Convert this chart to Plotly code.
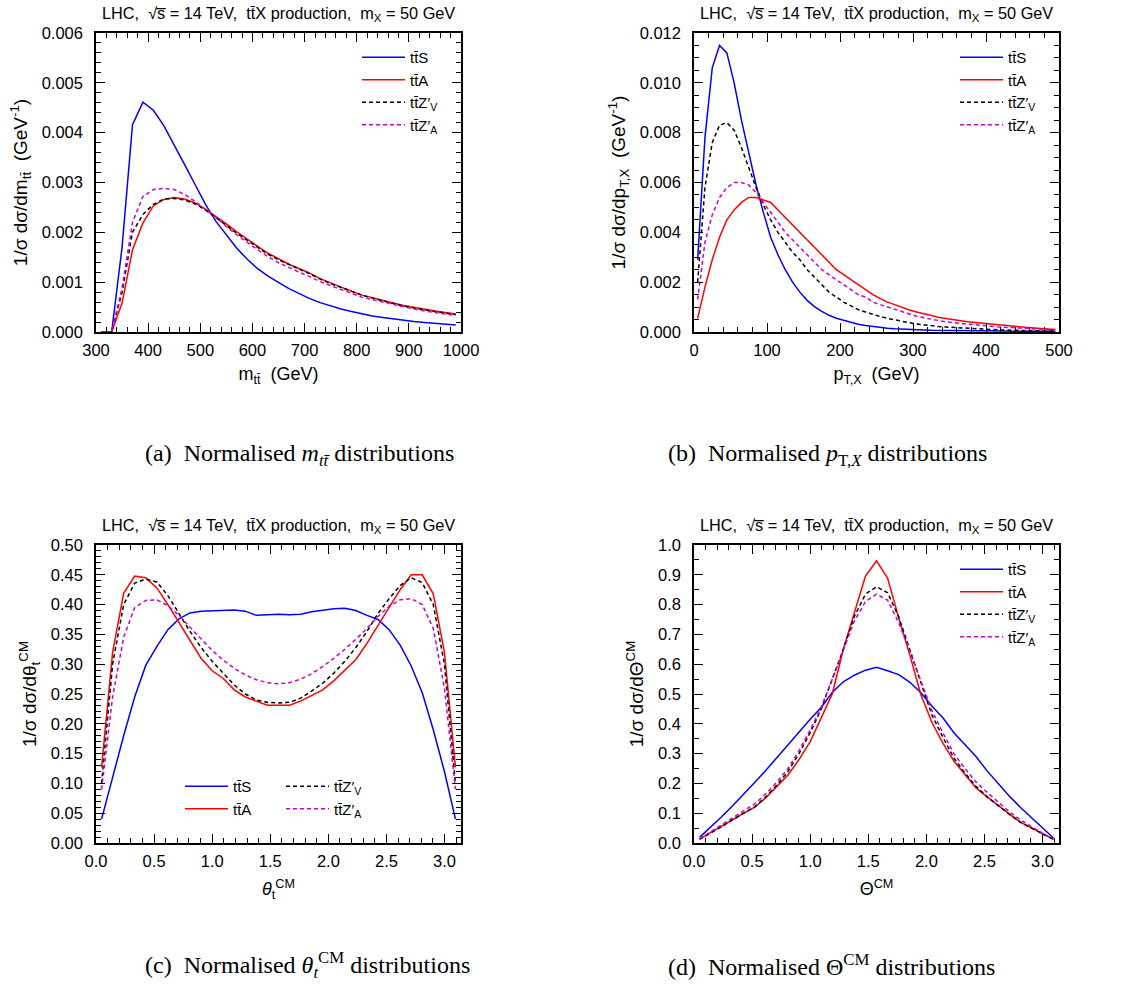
import plotly.graph_objects as go

# ---------------- data ----------------
mtt_bins = list(range(310, 1000, 20))
mtt_S = [0, 0, 0.0017, 0.00416, 0.00461, 0.00445, 0.00414, 0.00376, 0.00336, 0.00296,
         0.00256, 0.00222, 0.00195, 0.00168, 0.00146, 0.00127, 0.00112, 0.00099, 0.00087, 0.00077,
         0.00067, 0.00059, 0.00052, 0.00046, 0.00041, 0.00036, 0.00032, 0.00029, 0.00026, 0.00023,
         0.00021, 0.00019, 0.00017, 0.00016, 0.00014]
mtt_A = [0, 0, 0.00058, 0.00165, 0.00219, 0.00253, 0.00266, 0.0027, 0.00267, 0.00259,
         0.00246, 0.00232, 0.00217, 0.00201, 0.00186, 0.00172, 0.00158, 0.00147, 0.00136, 0.00127,
         0.00118, 0.00107, 0.00098, 0.0009, 0.00082, 0.00074, 0.00069, 0.00063, 0.00058, 0.00053,
         0.00049, 0.00045, 0.00042, 0.00039, 0.00036]
mtt_ZV = [0, 0, 0.0008, 0.002, 0.00236, 0.00256, 0.00267, 0.00268, 0.00265, 0.00257,
          0.00245, 0.00229, 0.00213, 0.00198, 0.00184, 0.0017, 0.00156, 0.00145, 0.00135, 0.00126,
          0.00117, 0.00106, 0.00097, 0.00089, 0.00081, 0.00074, 0.00068, 0.00062, 0.00057, 0.00052,
          0.00048, 0.00044, 0.00041, 0.00038, 0.00035]
mtt_ZA = [0, 0, 0.00088, 0.0022, 0.00272, 0.00286, 0.00288, 0.00286, 0.00276, 0.00262,
          0.00246, 0.0023, 0.00212, 0.00195, 0.0018, 0.00165, 0.00151, 0.00139, 0.00129, 0.0012,
          0.00111, 0.00101, 0.00093, 0.00085, 0.00078, 0.0007, 0.00065, 0.0006, 0.00055, 0.0005,
          0.00046, 0.00042, 0.00039, 0.00036, 0.00033]

pt_bins = list(range(5, 500, 10))
pt_S = [0.0029, 0.0078, 0.0106, 0.0115, 0.0112, 0.0100, 0.0085, 0.0072, 0.0059, 0.0048,
        0.0038, 0.0031, 0.0025, 0.002, 0.0016, 0.00127, 0.00102, 0.00083, 0.00067, 0.00055,
        0.00046, 0.00038, 0.00031, 0.00026, 0.00022, 0.00018, 0.00015, 0.00013, 0.00011, 0.0001,
        0.00009, 0.00008, 0.00007, 0.00007, 0.00006, 0.00006, 0.00005, 0.00005, 0.00005, 0.00004,
        0.00004, 0.00004, 0.00004, 0.00003, 0.00003, 0.00003, 0.00003, 0.00003, 0.00003, 0.00003]
pt_A = [0.00055, 0.0018, 0.0029, 0.0038, 0.0045, 0.0049, 0.0052, 0.0054, 0.0054, 0.0053,
        0.0052, 0.0049, 0.0046, 0.0043, 0.004, 0.0037, 0.0034, 0.0031, 0.0028, 0.0025,
        0.0023, 0.0021, 0.0019, 0.0017, 0.0015, 0.00135, 0.0012, 0.0011, 0.00098, 0.00088,
        0.0008, 0.00072, 0.00065, 0.00059, 0.00054, 0.00049, 0.00045, 0.00041, 0.00038, 0.00036,
        0.00033, 0.0003, 0.00027, 0.00024, 0.00021, 0.00019, 0.00016, 0.00014, 0.00012, 0.0001]
pt_ZV = [0.002, 0.0058, 0.0076, 0.0083, 0.0084, 0.0081, 0.0074, 0.0066, 0.0058, 0.0051,
         0.0045, 0.004, 0.0036, 0.0032, 0.0029, 0.0025, 0.0022, 0.0019, 0.0016, 0.0014,
         0.0012, 0.00105, 0.0009, 0.0008, 0.0007, 0.00062, 0.00055, 0.00048, 0.00042, 0.00037,
         0.00032, 0.00028, 0.00025, 0.00022, 0.0002, 0.00018, 0.00016, 0.00014, 0.00013, 0.00012,
         0.0001, 0.00009, 0.00008, 0.00007, 0.00006, 0.00006, 0.00005, 0.00005, 0.00004, 0.00004]
pt_ZA = [0.0013, 0.0036, 0.0047, 0.0054, 0.0058, 0.006, 0.006, 0.0059, 0.0056, 0.0052,
         0.0048, 0.0044, 0.004, 0.0037, 0.0034, 0.0031, 0.0028, 0.0025, 0.0023, 0.0021,
         0.0019, 0.0017, 0.0015, 0.0014, 0.0012, 0.0011, 0.001, 0.0009, 0.0008, 0.0007,
         0.00063, 0.00057, 0.00051, 0.00046, 0.00041, 0.00037, 0.00034, 0.00031, 0.00028, 0.00026,
         0.00024, 0.00021, 0.00019, 0.00017, 0.00015, 0.00013, 0.00012, 0.0001, 0.00009, 0.00008]

ang_bins = [0.048, 0.143, 0.238, 0.333, 0.428, 0.524, 0.619, 0.714, 0.809, 0.904, 1.000,
            1.095, 1.190, 1.285, 1.380, 1.476, 1.571, 1.666, 1.761, 1.856, 1.951, 2.047,
            2.142, 2.237, 2.332, 2.427, 2.523, 2.618, 2.713, 2.808, 2.903, 2.999, 3.094]
th_S = [0.04, 0.11, 0.18, 0.245, 0.298, 0.33, 0.358, 0.376, 0.386, 0.389, 0.39,
        0.391, 0.391, 0.389, 0.382, 0.383, 0.384, 0.383, 0.384, 0.388, 0.391, 0.393,
        0.394, 0.39, 0.382, 0.375, 0.358, 0.332, 0.297, 0.252, 0.19, 0.12, 0.04]
th_A = [0.127, 0.32, 0.419, 0.448, 0.445, 0.428, 0.4, 0.37, 0.338, 0.31, 0.289,
        0.276, 0.257, 0.245, 0.238, 0.231, 0.231, 0.231, 0.238, 0.247, 0.257, 0.272,
        0.29, 0.308, 0.335, 0.365, 0.397, 0.425, 0.45, 0.45, 0.418, 0.32, 0.127]
th_ZV = [0.1, 0.3, 0.4, 0.436, 0.443, 0.438, 0.415, 0.385, 0.355, 0.328, 0.305,
         0.285, 0.265, 0.25, 0.24, 0.236, 0.235, 0.236, 0.243, 0.255, 0.268, 0.285,
         0.305, 0.328, 0.355, 0.385, 0.41, 0.432, 0.445, 0.437, 0.4, 0.3, 0.1]
th_ZA = [0.09, 0.245, 0.345, 0.395, 0.407, 0.408, 0.398, 0.382, 0.362, 0.342, 0.323,
         0.307, 0.293, 0.282, 0.274, 0.269, 0.267, 0.269, 0.275, 0.284, 0.296, 0.31,
         0.325, 0.342, 0.36, 0.38, 0.397, 0.408, 0.41, 0.4, 0.36, 0.26, 0.09]

Th_S = [0.019, 0.053, 0.088, 0.125, 0.163, 0.204, 0.244, 0.287, 0.33, 0.373, 0.415,
        0.455, 0.505, 0.541, 0.563, 0.58, 0.59, 0.578, 0.565, 0.54, 0.505, 0.46,
        0.42, 0.37, 0.33, 0.29, 0.242, 0.2, 0.158, 0.12, 0.085, 0.05, 0.017]
Th_A = [0.013, 0.035, 0.057, 0.08, 0.1, 0.12, 0.152, 0.19, 0.228, 0.28, 0.34,
        0.42, 0.5, 0.65, 0.77, 0.896, 0.947, 0.889, 0.757, 0.633, 0.5, 0.405,
        0.335, 0.275, 0.23, 0.185, 0.155, 0.125, 0.098, 0.07, 0.05, 0.03, 0.012]
Th_ZV = [0.012, 0.033, 0.055, 0.078, 0.1, 0.122, 0.155, 0.195, 0.24, 0.3, 0.37,
         0.45, 0.55, 0.65, 0.76, 0.835, 0.86, 0.84, 0.76, 0.65, 0.54, 0.43,
         0.355, 0.285, 0.235, 0.19, 0.155, 0.125, 0.097, 0.07, 0.05, 0.03, 0.012]
Th_ZA = [0.014, 0.037, 0.06, 0.085, 0.108, 0.132, 0.165, 0.205, 0.25, 0.31, 0.38,
         0.455, 0.55, 0.645, 0.745, 0.81, 0.835, 0.815, 0.74, 0.645, 0.545, 0.445,
         0.37, 0.3, 0.25, 0.205, 0.17, 0.138, 0.105, 0.078, 0.055, 0.033, 0.012]

names = ["tt\u0304S", "tt\u0304A", "tt\u0304Z\u2032<sub>V</sub>", "tt\u0304Z\u2032<sub>A</sub>"]
colors = ["#0000ff", "#ff0000", "#000000", "#cc00cc"]
dashes = ["solid", "solid", "4px,3px", "4px,3px"]

# ---------------- figure ----------------
W, H = 1122, 988
FONT = "Liberation Sans, Arial, Helvetica, sans-serif"
SERIF = "Liberation Serif, Times New Roman, serif"

def px_x(p):
    return p / W

def px_y(p):
    return 1 - p / H

fig = go.Figure()

panels = [
    (mtt_bins, [mtt_S, mtt_A, mtt_ZV, mtt_ZA], "x", "y", "legend"),
    (pt_bins, [pt_S, pt_A, pt_ZV, pt_ZA], "x2", "y2", "legend2"),
    (ang_bins, [th_S, th_A, th_ZV, th_ZA], "x3", "y3", None),
    (ang_bins, [Th_S, Th_A, Th_ZV, Th_ZA], "x4", "y4", "legend4"),
]
for xs, series, xa, ya, lg in panels:
    for k, ys in enumerate(series):
        if lg is None:
            leg = "legend3" if k in (0, 1) else "legend5"
        else:
            leg = lg
        fig.add_trace(go.Scatter(
            x=xs, y=ys, mode="lines", name=names[k], xaxis=xa, yaxis=ya,
            line=dict(color=colors[k], width=1.5, dash=dashes[k]),
            legend=leg, showlegend=True))

def axis(dom, rng, dtick, mdtick, fmt, title, anchor, standoff, lstand, tsize):
    return dict(
        domain=dom, range=rng, anchor=anchor, dtick=dtick, tick0=0,
        tickformat=fmt, showline=True, linecolor="black", linewidth=1.5,
        mirror="allticks", ticks="inside", ticklen=9, tickwidth=1.2, tickcolor="black",
        showgrid=False, zeroline=False, automargin=False,
        ticklabelstandoff=lstand,
        tickfont=dict(family=FONT, size=16.5, color="black"),
        minor=dict(ticks="inside", ticklen=5, dtick=mdtick, tick0=0,
                   tickcolor="black", tickwidth=1, showgrid=False),
        title=dict(text=title, font=dict(family=FONT, size=tsize, color="black"), standoff=standoff),
    )

xL = [px_x(96), px_x(461)]
xR = [px_x(694), px_x(1059)]
yT = [px_y(332), px_y(33)]
yB = [px_y(843), px_y(545)]
PI = 3.14159265

fig.update_layout(
    width=W, height=H, margin=dict(l=0, r=0, t=0, b=0, autoexpand=False),
    paper_bgcolor="white", plot_bgcolor="white",
    font=dict(family=FONT, color="black"),
    xaxis=axis(xL, [300, 1000], 100, 20, "d", "m<sub>tt\u0304</sub>\u00a0\u00a0(GeV)", "y", 10, 2, 18),
    yaxis=axis(yT, [0, 0.006], 0.001, 0.0002, ".3f",
               "1/\u03c3 d\u03c3/dm<sub>tt\u0304</sub>\u00a0\u00a0(GeV<sup>-1</sup>)", "x", 9, 8, 19),
    xaxis2=axis(xR, [0, 500], 100, 20, "d", "p<sub>T,X</sub>\u00a0\u00a0(GeV)", "y2", 10, 2, 18),
    yaxis2=axis(yT, [0, 0.012], 0.002, 0.0005, ".3f",
                "1/\u03c3 d\u03c3/dp<sub>T,X</sub>\u00a0\u00a0(GeV<sup>-1</sup>)", "x2", 9, 8, 19),
    xaxis3=axis(xL, [0, PI], 0.5, 0.1, ".1f", "<i>\u03b8</i><sub>t</sub><sup>CM</sup>", "y3", 14, 2, 18),
    yaxis3=axis(yB, [0, 0.5], 0.05, 0.01, ".2f",
                "1/\u03c3 d\u03c3/d\u03b8<sub>t</sub><sup>CM</sup>", "x3", 9, 8, 19),
    xaxis4=axis(xR, [0, PI], 0.5, 0.1, ".1f", "\u0398<sup>CM</sup>", "y4", 14, 2, 18),
    yaxis4=axis(yB, [0, 1.0], 0.1, 0.05, ".1f", "1/\u03c3 d\u03c3/d\u0398<sup>CM</sup>", "x4", 9, 8, 19),
)

legfont = dict(family=FONT, size=15, color="black")
def leg(xp, yp):
    return dict(x=px_x(xp), y=px_y(yp), xanchor="left", yanchor="top",
                bgcolor="rgba(0,0,0,0)", borderwidth=0, font=legfont,
                itemwidth=43, tracegroupgap=0, itemclick=False)

fig.update_layout(
    legend=leg(357, 41),
    legend2=leg(955, 41),
    legend4=leg(955, 553),
    legend3=leg(180, 770),
    legend5=leg(281, 770),
)

title_txt = ("LHC,\u00a0\u00a0\u221as\u0305 = 14 TeV,\u00a0\u00a0tt\u0304X production,\u00a0\u00a0"
             "m<sub>X</sub> = 50 GeV")
captions = [
    ("(a)\u00a0\u00a0Normalised <i>m</i><sub><i>tt\u0304</i></sub> distributions", 143, 455),
    ("(b)\u00a0\u00a0Normalised <i>p</i><sub>T,<i>X</i></sub> distributions", 666, 455),
    ("(c)\u00a0\u00a0Normalised <i>\u03b8</i><sub><i>t</i></sub><sup>CM</sup> distributions", 143, 965),
    ("(d)\u00a0\u00a0Normalised \u0398<sup>CM</sup> distributions", 666, 965),
]
ann = []
for cx, cy in [(278.5, 14), (876.5, 14), (278.5, 526), (876.5, 526)]:
    ann.append(dict(text=title_txt, x=px_x(cx), y=px_y(cy), xref="paper", yref="paper",
                    xanchor="center", yanchor="middle", showarrow=False,
                    font=dict(family=FONT, size=16.3, color="black")))
for t, lx, cy in captions:
    ann.append(dict(text=t, x=px_x(lx), y=px_y(cy), xref="paper", yref="paper",
                    xanchor="left", yanchor="middle", showarrow=False,
                    font=dict(family=SERIF, size=24, color="black")))
fig.update_layout(annotations=ann)

fig.write_html("out.html")
